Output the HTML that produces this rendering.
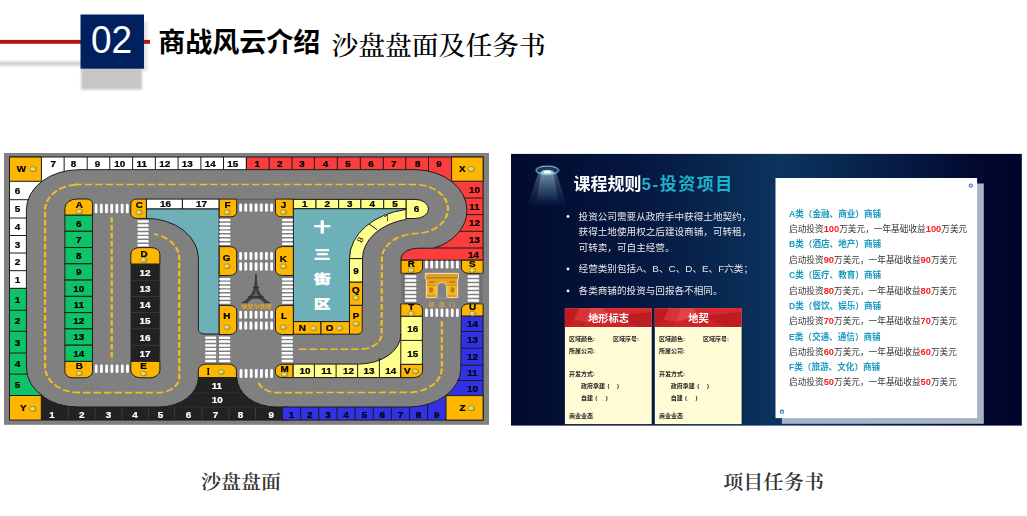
<!DOCTYPE html>
<html lang="zh-CN"><head><meta charset="utf-8"><title>商战风云介绍 沙盘盘面及任务书</title>
<style>
html,body{margin:0;padding:0;background:#fff;}
body{width:1027px;height:516px;overflow:hidden;position:relative;font-family:"Liberation Sans","Noto Sans CJK SC",sans-serif;}
svg{position:absolute;left:0;top:0;display:block;}
svg text{font-family:"Liberation Sans","Noto Sans CJK SC",sans-serif;}
svg text.mono{font-family:"Liberation Mono","DejaVu Sans Mono",monospace;}
svg text.serif{font-family:"Liberation Serif","Noto Serif CJK SC",serif;}
</style></head><body>
<svg width="1027" height="516" viewBox="0 0 1027 516">
<defs>
<radialGradient id="gold" cx="0.38" cy="0.4" r="0.72"><stop offset="0" stop-color="#efe87e"/><stop offset="0.55" stop-color="#d6ca58"/><stop offset="1" stop-color="#9a8c2c"/></radialGradient>
<filter id="blur2" x="-20%" y="-50%" width="140%" height="200%"><feGaussianBlur stdDeviation="1.3"/></filter>
<filter id="soft" x="-2%" y="-2%" width="104%" height="104%"><feGaussianBlur stdDeviation="0.45"/></filter>
<filter id="blur1" x="-20%" y="-200%" width="140%" height="500%"><feGaussianBlur stdDeviation="1.3"/></filter>
<linearGradient id="panel" x1="0" x2="1" y1="0" y2="0">
<stop offset="0" stop-color="#020a2e"/><stop offset="0.25" stop-color="#051740"/><stop offset="0.53" stop-color="#0b345e"/><stop offset="0.75" stop-color="#061c46"/><stop offset="0.92" stop-color="#02082e"/><stop offset="1" stop-color="#010429"/></linearGradient>
<linearGradient id="cone" x1="0" x2="0" y1="0" y2="1"><stop offset="0" stop-color="#bfe4f4" stop-opacity="0.75"/><stop offset="1" stop-color="#6aa8d0" stop-opacity="0"/></linearGradient>
</defs>

<rect x="-10" y="61.2" width="92" height="4.6" fill="#d2d2d2" filter="url(#blur1)"/>
<rect x="81.5" y="22" width="66" height="49" fill="#000" opacity="0.10" filter="url(#blur2)"/>
<rect x="81.2" y="68" width="60.8" height="21.6" fill="#c6c6c6" filter="url(#blur2)"/>
<rect x="0" y="39.9" width="150" height="3.9" fill="#b5120f"/>
<rect x="80.5" y="14.5" width="63.5" height="54.2" fill="#002060"/>
<text transform="translate(111.5,52.6) scale(1,1.055)" text-anchor="middle" font-size="37" fill="#fff">02</text>
<text x="158.2" y="52.4" font-size="27" font-weight="700" fill="#000">商战风云介绍</text>
<text class="serif" transform="translate(331.5,54.6) scale(1,0.96)" font-size="26.8" font-weight="500" fill="#000">沙盘盘面及任务书</text>
<text class="serif" transform="translate(241,488.9) scale(1,0.94)" text-anchor="middle" font-size="20" font-weight="600" fill="#333">沙盘盘面</text>
<text class="serif" transform="translate(773.7,488.9) scale(1,0.94)" text-anchor="middle" font-size="20" font-weight="600" fill="#333" letter-spacing="0.25">项目任务书</text>
<rect x="4" y="153" width="485" height="271.8" fill="#808080"/>
<g id="board" filter="url(#soft)">
<path d="M9.5,157.0 L246.4,157.0 L246.4,169.7 L79,169.7 A52.6,40 0 0 0 26.4,209.7 L26.4,288.4 L9.5,288.4 Z" fill="#fff" stroke="#1c1c1c" stroke-width="1.0" />
<text transform="translate(53.30,163.80) scale(1.1,1)" text-anchor="middle" font-size="9.0" font-weight="700" fill="#000" stroke="#000" stroke-width="0.25" y="3.15">7</text>
<line x1="64.15" y1="157.00" x2="64.15" y2="171.70" stroke="#1c1c1c" stroke-width="1.0"/>
<text transform="translate(73.40,163.80) scale(1.1,1)" text-anchor="middle" font-size="9.0" font-weight="700" fill="#000" stroke="#000" stroke-width="0.25" y="3.15">8</text>
<line x1="87.20" y1="157.00" x2="87.20" y2="169.70" stroke="#1c1c1c" stroke-width="1.0"/>
<text transform="translate(97.60,163.80) scale(1.1,1)" text-anchor="middle" font-size="9.0" font-weight="700" fill="#000" stroke="#000" stroke-width="0.25" y="3.15">9</text>
<line x1="109.80" y1="157.00" x2="109.80" y2="169.70" stroke="#1c1c1c" stroke-width="1.0"/>
<text transform="translate(119.80,163.80) scale(1.1,1)" text-anchor="middle" font-size="9.0" font-weight="700" fill="#000" stroke="#000" stroke-width="0.25" y="3.15">10</text>
<line x1="132.60" y1="157.00" x2="132.60" y2="169.70" stroke="#1c1c1c" stroke-width="1.0"/>
<text transform="translate(141.70,163.80) scale(1.1,1)" text-anchor="middle" font-size="9.0" font-weight="700" fill="#000" stroke="#000" stroke-width="0.25" y="3.15">11</text>
<line x1="155.35" y1="157.00" x2="155.35" y2="169.70" stroke="#1c1c1c" stroke-width="1.0"/>
<text transform="translate(164.70,163.80) scale(1.1,1)" text-anchor="middle" font-size="9.0" font-weight="700" fill="#000" stroke="#000" stroke-width="0.25" y="3.15">12</text>
<line x1="178.10" y1="157.00" x2="178.10" y2="169.70" stroke="#1c1c1c" stroke-width="1.0"/>
<text transform="translate(187.20,163.80) scale(1.1,1)" text-anchor="middle" font-size="9.0" font-weight="700" fill="#000" stroke="#000" stroke-width="0.25" y="3.15">13</text>
<line x1="200.90" y1="157.00" x2="200.90" y2="169.70" stroke="#1c1c1c" stroke-width="1.0"/>
<text transform="translate(210.30,163.80) scale(1.1,1)" text-anchor="middle" font-size="9.0" font-weight="700" fill="#000" stroke="#000" stroke-width="0.25" y="3.15">14</text>
<line x1="223.50" y1="157.00" x2="223.50" y2="169.70" stroke="#1c1c1c" stroke-width="1.0"/>
<text transform="translate(232.80,163.80) scale(1.1,1)" text-anchor="middle" font-size="9.0" font-weight="700" fill="#000" stroke="#000" stroke-width="0.25" y="3.15">15</text>
<text transform="translate(17.60,190.80) scale(1.1,1)" text-anchor="middle" font-size="9.0" font-weight="700" fill="#000" stroke="#000" stroke-width="0.25" y="3.15">6</text>
<line x1="9.50" y1="199.70" x2="28.40" y2="199.70" stroke="#1c1c1c" stroke-width="1.0"/>
<text transform="translate(17.60,209.15) scale(1.1,1)" text-anchor="middle" font-size="9.0" font-weight="700" fill="#000" stroke="#000" stroke-width="0.25" y="3.15">5</text>
<line x1="9.50" y1="218.00" x2="26.40" y2="218.00" stroke="#1c1c1c" stroke-width="1.0"/>
<text transform="translate(17.60,227.05) scale(1.1,1)" text-anchor="middle" font-size="9.0" font-weight="700" fill="#000" stroke="#000" stroke-width="0.25" y="3.15">4</text>
<line x1="9.50" y1="235.50" x2="26.40" y2="235.50" stroke="#1c1c1c" stroke-width="1.0"/>
<text transform="translate(17.60,244.55) scale(1.1,1)" text-anchor="middle" font-size="9.0" font-weight="700" fill="#000" stroke="#000" stroke-width="0.25" y="3.15">3</text>
<line x1="9.50" y1="253.00" x2="26.40" y2="253.00" stroke="#1c1c1c" stroke-width="1.0"/>
<text transform="translate(17.60,262.15) scale(1.1,1)" text-anchor="middle" font-size="9.0" font-weight="700" fill="#000" stroke="#000" stroke-width="0.25" y="3.15">2</text>
<line x1="9.50" y1="270.70" x2="26.40" y2="270.70" stroke="#1c1c1c" stroke-width="1.0"/>
<text transform="translate(17.60,279.80) scale(1.1,1)" text-anchor="middle" font-size="9.0" font-weight="700" fill="#000" stroke="#000" stroke-width="0.25" y="3.15">1</text>
<path d="M9.5,288.4 L26.4,288.4 L26.4,367.0 A52.6,40 0 0 0 44,397 L9.5,397 Z" fill="#10c268" stroke="#1c1c1c" stroke-width="1.0" />
<text transform="translate(17.60,299.65) scale(1.1,1)" text-anchor="middle" font-size="9.0" font-weight="700" fill="#000" stroke="#000" stroke-width="0.25" y="3.15">1</text>
<line x1="9.50" y1="310.30" x2="26.40" y2="310.30" stroke="#1c1c1c" stroke-width="1.0"/>
<text transform="translate(17.60,321.10) scale(1.1,1)" text-anchor="middle" font-size="9.0" font-weight="700" fill="#000" stroke="#000" stroke-width="0.25" y="3.15">2</text>
<line x1="9.50" y1="331.30" x2="26.40" y2="331.30" stroke="#1c1c1c" stroke-width="1.0"/>
<text transform="translate(17.60,342.45) scale(1.1,1)" text-anchor="middle" font-size="9.0" font-weight="700" fill="#000" stroke="#000" stroke-width="0.25" y="3.15">3</text>
<line x1="9.50" y1="353.00" x2="26.40" y2="353.00" stroke="#1c1c1c" stroke-width="1.0"/>
<text transform="translate(17.60,363.85) scale(1.1,1)" text-anchor="middle" font-size="9.0" font-weight="700" fill="#000" stroke="#000" stroke-width="0.25" y="3.15">4</text>
<line x1="9.50" y1="374.10" x2="27.00" y2="374.10" stroke="#1c1c1c" stroke-width="1.0"/>
<text transform="translate(17.60,385.10) scale(1.1,1)" text-anchor="middle" font-size="9.0" font-weight="700" fill="#000" stroke="#000" stroke-width="0.25" y="3.15">5</text>
<path d="M41.3,420.1 L41.3,395.5 A52.6,40 0 0 0 79,407.0 L159.1,407.0 A39.3,29.9 0 0 0 198.4,377.5 L236.9,377.5 A39.3,29.9 0 0 0 276.3,407.0 L288.4,407.0 L288.4,420.1 Z" fill="#222222" stroke="#1c1c1c" stroke-width="1.0" />
<text transform="translate(52.10,414.70) scale(1.1,1)" text-anchor="middle" font-size="9.0" font-weight="700" fill="#fff" stroke="#fff" stroke-width="0.25" y="3.15">1</text>
<line x1="68.30" y1="407.30" x2="68.30" y2="420.10" stroke="#3d3d3d" stroke-width="0.9"/>
<text transform="translate(81.80,414.70) scale(1.1,1)" text-anchor="middle" font-size="9.0" font-weight="700" fill="#fff" stroke="#fff" stroke-width="0.25" y="3.15">2</text>
<line x1="95.00" y1="407.30" x2="95.00" y2="420.10" stroke="#3d3d3d" stroke-width="0.9"/>
<text transform="translate(108.50,414.70) scale(1.1,1)" text-anchor="middle" font-size="9.0" font-weight="700" fill="#fff" stroke="#fff" stroke-width="0.25" y="3.15">3</text>
<line x1="122.00" y1="407.30" x2="122.00" y2="420.10" stroke="#3d3d3d" stroke-width="0.9"/>
<text transform="translate(134.90,414.70) scale(1.1,1)" text-anchor="middle" font-size="9.0" font-weight="700" fill="#fff" stroke="#fff" stroke-width="0.25" y="3.15">4</text>
<line x1="148.60" y1="407.30" x2="148.60" y2="420.10" stroke="#3d3d3d" stroke-width="0.9"/>
<text transform="translate(160.40,414.70) scale(1.1,1)" text-anchor="middle" font-size="9.0" font-weight="700" fill="#fff" stroke="#fff" stroke-width="0.25" y="3.15">5</text>
<line x1="174.60" y1="407.30" x2="174.60" y2="420.10" stroke="#3d3d3d" stroke-width="0.9"/>
<text transform="translate(188.60,414.70) scale(1.1,1)" text-anchor="middle" font-size="9.0" font-weight="700" fill="#fff" stroke="#fff" stroke-width="0.25" y="3.15">6</text>
<line x1="202.00" y1="407.30" x2="202.00" y2="420.10" stroke="#3d3d3d" stroke-width="0.9"/>
<text transform="translate(215.50,414.70) scale(1.1,1)" text-anchor="middle" font-size="9.0" font-weight="700" fill="#fff" stroke="#fff" stroke-width="0.25" y="3.15">7</text>
<line x1="229.00" y1="407.30" x2="229.00" y2="420.10" stroke="#3d3d3d" stroke-width="0.9"/>
<text transform="translate(240.40,414.70) scale(1.1,1)" text-anchor="middle" font-size="9.0" font-weight="700" fill="#fff" stroke="#fff" stroke-width="0.25" y="3.15">8</text>
<line x1="255.50" y1="407.30" x2="255.50" y2="420.10" stroke="#3d3d3d" stroke-width="0.9"/>
<text transform="translate(271.20,414.70) scale(1.1,1)" text-anchor="middle" font-size="9.0" font-weight="700" fill="#fff" stroke="#fff" stroke-width="0.25" y="3.15">9</text>
<line x1="168.00" y1="407.20" x2="268.00" y2="407.20" stroke="#343434" stroke-width="0.7"/>
<line x1="193.50" y1="392.60" x2="243.00" y2="392.60" stroke="#343434" stroke-width="0.7"/>
<text transform="translate(216.90,385.70) scale(1.1,1)" text-anchor="middle" font-size="9.0" font-weight="700" fill="#fff" stroke="#fff" stroke-width="0.25" y="3.15">11</text>
<text transform="translate(217.20,399.40) scale(1.1,1)" text-anchor="middle" font-size="9.0" font-weight="700" fill="#fff" stroke="#fff" stroke-width="0.25" y="3.15">10</text>
<path d="M282.5,420.1 L282.5,407.0 L408.8,407.0 A52,38.5 0 0 0 460.8,368.5 L461.3,316 L483.1,316 L483.1,420.1 Z" fill="#3232e4" stroke="#1c1c1c" stroke-width="1.0" />
<text transform="translate(291.57,414.70) scale(1.1,1)" text-anchor="middle" font-size="9.0" font-weight="700" fill="#000" stroke="#000" stroke-width="0.25" y="3.15">1</text>
<line x1="300.65" y1="407.00" x2="300.65" y2="420.10" stroke="#1c1c1c" stroke-width="1.0"/>
<text transform="translate(309.73,414.70) scale(1.1,1)" text-anchor="middle" font-size="9.0" font-weight="700" fill="#000" stroke="#000" stroke-width="0.25" y="3.15">2</text>
<line x1="318.80" y1="407.00" x2="318.80" y2="420.10" stroke="#1c1c1c" stroke-width="1.0"/>
<text transform="translate(327.88,414.70) scale(1.1,1)" text-anchor="middle" font-size="9.0" font-weight="700" fill="#000" stroke="#000" stroke-width="0.25" y="3.15">3</text>
<line x1="336.95" y1="407.00" x2="336.95" y2="420.10" stroke="#1c1c1c" stroke-width="1.0"/>
<text transform="translate(346.02,414.70) scale(1.1,1)" text-anchor="middle" font-size="9.0" font-weight="700" fill="#000" stroke="#000" stroke-width="0.25" y="3.15">4</text>
<line x1="355.10" y1="407.00" x2="355.10" y2="420.10" stroke="#1c1c1c" stroke-width="1.0"/>
<text transform="translate(364.18,414.70) scale(1.1,1)" text-anchor="middle" font-size="9.0" font-weight="700" fill="#000" stroke="#000" stroke-width="0.25" y="3.15">5</text>
<line x1="373.25" y1="407.00" x2="373.25" y2="420.10" stroke="#1c1c1c" stroke-width="1.0"/>
<text transform="translate(382.32,414.70) scale(1.1,1)" text-anchor="middle" font-size="9.0" font-weight="700" fill="#000" stroke="#000" stroke-width="0.25" y="3.15">6</text>
<line x1="391.40" y1="407.00" x2="391.40" y2="420.10" stroke="#1c1c1c" stroke-width="1.0"/>
<text transform="translate(400.45,414.70) scale(1.1,1)" text-anchor="middle" font-size="9.0" font-weight="700" fill="#000" stroke="#000" stroke-width="0.25" y="3.15">7</text>
<line x1="409.50" y1="407.00" x2="409.50" y2="420.10" stroke="#1c1c1c" stroke-width="1.0"/>
<text transform="translate(418.55,414.70) scale(1.1,1)" text-anchor="middle" font-size="9.0" font-weight="700" fill="#000" stroke="#000" stroke-width="0.25" y="3.15">8</text>
<line x1="427.60" y1="403.50" x2="427.60" y2="420.10" stroke="#1c1c1c" stroke-width="1.0"/>
<text transform="translate(436.80,414.70) scale(1.1,1)" text-anchor="middle" font-size="9.0" font-weight="700" fill="#000" stroke="#000" stroke-width="0.25" y="3.15">9</text>
<text transform="translate(472.40,324.05) scale(1.1,1)" text-anchor="middle" font-size="9.0" font-weight="700" fill="#000" stroke="#000" stroke-width="0.25" y="3.15">14</text>
<line x1="461.30" y1="331.50" x2="483.10" y2="331.50" stroke="#1c1c1c" stroke-width="1.0"/>
<text transform="translate(472.40,340.15) scale(1.1,1)" text-anchor="middle" font-size="9.0" font-weight="700" fill="#000" stroke="#000" stroke-width="0.25" y="3.15">13</text>
<line x1="461.30" y1="348.20" x2="483.10" y2="348.20" stroke="#1c1c1c" stroke-width="1.0"/>
<text transform="translate(472.40,357.05) scale(1.1,1)" text-anchor="middle" font-size="9.0" font-weight="700" fill="#000" stroke="#000" stroke-width="0.25" y="3.15">12</text>
<line x1="461.00" y1="365.30" x2="483.10" y2="365.30" stroke="#1c1c1c" stroke-width="1.0"/>
<text transform="translate(472.40,373.20) scale(1.1,1)" text-anchor="middle" font-size="9.0" font-weight="700" fill="#000" stroke="#000" stroke-width="0.25" y="3.15">11</text>
<line x1="457.50" y1="380.50" x2="483.10" y2="380.50" stroke="#1c1c1c" stroke-width="1.0"/>
<text transform="translate(472.40,388.35) scale(1.1,1)" text-anchor="middle" font-size="9.0" font-weight="700" fill="#000" stroke="#000" stroke-width="0.25" y="3.15">10</text>
<path d="M246.4,157.0 L483.1,157.0 L483.1,260.2 L401,260.2 L401,258.6 A17.6,10.4 0 0 1 418.6,248.2 L433.65,248.2 A52,40.6 0 0 0 467,210.3 A52,40.6 0 0 0 415,169.7 L246.4,169.7 Z" fill="#fb3d3d" stroke="#1c1c1c" stroke-width="1.0" />
<text transform="translate(257.30,164.00) scale(1.1,1)" text-anchor="middle" font-size="9.0" font-weight="700" fill="#000" stroke="#000" stroke-width="0.25" y="3.15">1</text>
<line x1="269.20" y1="157.00" x2="269.20" y2="169.70" stroke="#1c1c1c" stroke-width="1.0"/>
<text transform="translate(279.70,164.00) scale(1.1,1)" text-anchor="middle" font-size="9.0" font-weight="700" fill="#000" stroke="#000" stroke-width="0.25" y="3.15">2</text>
<line x1="292.00" y1="157.00" x2="292.00" y2="169.70" stroke="#1c1c1c" stroke-width="1.0"/>
<text transform="translate(301.90,164.00) scale(1.1,1)" text-anchor="middle" font-size="9.0" font-weight="700" fill="#000" stroke="#000" stroke-width="0.25" y="3.15">3</text>
<line x1="314.40" y1="157.00" x2="314.40" y2="169.70" stroke="#1c1c1c" stroke-width="1.0"/>
<text transform="translate(325.50,164.00) scale(1.1,1)" text-anchor="middle" font-size="9.0" font-weight="700" fill="#000" stroke="#000" stroke-width="0.25" y="3.15">4</text>
<line x1="337.30" y1="157.00" x2="337.30" y2="169.70" stroke="#1c1c1c" stroke-width="1.0"/>
<text transform="translate(348.10,164.00) scale(1.1,1)" text-anchor="middle" font-size="9.0" font-weight="700" fill="#000" stroke="#000" stroke-width="0.25" y="3.15">5</text>
<line x1="360.30" y1="157.00" x2="360.30" y2="169.70" stroke="#1c1c1c" stroke-width="1.0"/>
<text transform="translate(371.00,164.00) scale(1.1,1)" text-anchor="middle" font-size="9.0" font-weight="700" fill="#000" stroke="#000" stroke-width="0.25" y="3.15">6</text>
<line x1="383.30" y1="157.00" x2="383.30" y2="169.70" stroke="#1c1c1c" stroke-width="1.0"/>
<text transform="translate(393.80,164.00) scale(1.1,1)" text-anchor="middle" font-size="9.0" font-weight="700" fill="#000" stroke="#000" stroke-width="0.25" y="3.15">7</text>
<line x1="405.80" y1="157.00" x2="405.80" y2="169.70" stroke="#1c1c1c" stroke-width="1.0"/>
<text transform="translate(417.80,164.00) scale(1.1,1)" text-anchor="middle" font-size="9.0" font-weight="700" fill="#000" stroke="#000" stroke-width="0.25" y="3.15">8</text>
<line x1="428.50" y1="157.00" x2="428.50" y2="171.20" stroke="#1c1c1c" stroke-width="1.0"/>
<text transform="translate(439.00,164.00) scale(1.1,1)" text-anchor="middle" font-size="9.0" font-weight="700" fill="#000" stroke="#000" stroke-width="0.25" y="3.15">9</text>
<text transform="translate(474.60,189.90) scale(1.1,1)" text-anchor="middle" font-size="9.0" font-weight="700" fill="#000" stroke="#000" stroke-width="0.25" y="3.15">10</text>
<line x1="465.00" y1="198.00" x2="483.10" y2="198.00" stroke="#1c1c1c" stroke-width="1.0"/>
<text transform="translate(474.60,206.60) scale(1.1,1)" text-anchor="middle" font-size="9.0" font-weight="700" fill="#000" stroke="#000" stroke-width="0.25" y="3.15">11</text>
<line x1="466.70" y1="214.60" x2="483.10" y2="214.60" stroke="#1c1c1c" stroke-width="1.0"/>
<text transform="translate(474.60,223.25) scale(1.1,1)" text-anchor="middle" font-size="9.0" font-weight="700" fill="#000" stroke="#000" stroke-width="0.25" y="3.15">12</text>
<line x1="460.00" y1="231.30" x2="483.10" y2="231.30" stroke="#1c1c1c" stroke-width="1.0"/>
<text transform="translate(474.60,239.95) scale(1.1,1)" text-anchor="middle" font-size="9.0" font-weight="700" fill="#000" stroke="#000" stroke-width="0.25" y="3.15">13</text>
<line x1="433.65" y1="248.00" x2="483.10" y2="248.00" stroke="#1c1c1c" stroke-width="1.0"/>
<text transform="translate(473.60,254.40) scale(1.1,1)" text-anchor="middle" font-size="9.0" font-weight="700" fill="#000" stroke="#000" stroke-width="0.25" y="3.15">14</text>
<rect x="9.50" y="157.00" width="31.90" height="24.30" fill="#feb600" stroke="#1c1c1c" stroke-width="1.0" />
<text transform="translate(21.50,168.70) scale(1.1,1)" text-anchor="middle" font-size="9.0" font-weight="700" fill="#000" stroke="#000" stroke-width="0.25" y="3.15">W</text>
<ellipse cx="33.10" cy="169.20" rx="3.4" ry="2.6" fill="url(#gold)" stroke="#7c7020" stroke-width="0.5"/>
<rect x="451.60" y="157.00" width="31.50" height="24.20" fill="#feb600" stroke="#1c1c1c" stroke-width="1.0" />
<text transform="translate(462.30,169.00) scale(1.1,1)" text-anchor="middle" font-size="9.0" font-weight="700" fill="#000" stroke="#000" stroke-width="0.25" y="3.15">X</text>
<ellipse cx="471.40" cy="169.10" rx="3.4" ry="2.6" fill="url(#gold)" stroke="#7c7020" stroke-width="0.5"/>
<rect x="9.50" y="395.50" width="31.80" height="24.60" fill="#feb600" stroke="#1c1c1c" stroke-width="1.0" />
<text transform="translate(23.30,408.30) scale(1.1,1)" text-anchor="middle" font-size="9.0" font-weight="700" fill="#000" stroke="#000" stroke-width="0.25" y="3.15">Y</text>
<ellipse cx="32.90" cy="409.00" rx="3.4" ry="2.6" fill="url(#gold)" stroke="#7c7020" stroke-width="0.5"/>
<rect x="446.00" y="395.60" width="37.10" height="24.50" fill="#feb600" stroke="#1c1c1c" stroke-width="1.0" />
<text transform="translate(462.50,408.30) scale(1.1,1)" text-anchor="middle" font-size="9.0" font-weight="700" fill="#000" stroke="#000" stroke-width="0.25" y="3.15">Z</text>
<ellipse cx="471.40" cy="408.40" rx="3.4" ry="2.6" fill="url(#gold)" stroke="#7c7020" stroke-width="0.5"/>
<path d="M146.4,208.8 L219.2,208.8 L219.2,334 L204,334 A5.6,4.5 0 0 1 198.4,329.5 L198.4,258.5 A52,40 0 0 0 146.4,218.4 Z" fill="#6eb0b8" stroke="#1c1c1c" stroke-width="1.0" />
<rect x="146.40" y="199.10" width="36.00" height="9.70" fill="#fff" stroke="#1c1c1c" stroke-width="1.0" />
<text transform="translate(165.60,204.20) scale(1.1,1)" text-anchor="middle" font-size="9.0" font-weight="700" fill="#000" stroke="#000" stroke-width="0.25" y="3.15">16</text>
<rect x="182.40" y="199.10" width="36.80" height="9.70" fill="#fff" stroke="#1c1c1c" stroke-width="1.0" />
<text transform="translate(201.50,204.20) scale(1.1,1)" text-anchor="middle" font-size="9.0" font-weight="700" fill="#000" stroke="#000" stroke-width="0.25" y="3.15">17</text>
<rect x="64.90" y="215.00" width="27.60" height="16.27" fill="#10c268" stroke="#1c1c1c" stroke-width="1.0" />
<text transform="translate(78.70,223.44) scale(1.1,1)" text-anchor="middle" font-size="9.0" font-weight="700" fill="#000" stroke="#000" stroke-width="0.25" y="3.15">6</text>
<rect x="64.90" y="231.27" width="27.60" height="16.27" fill="#10c268" stroke="#1c1c1c" stroke-width="1.0" />
<text transform="translate(78.70,239.71) scale(1.1,1)" text-anchor="middle" font-size="9.0" font-weight="700" fill="#000" stroke="#000" stroke-width="0.25" y="3.15">7</text>
<rect x="64.90" y="247.54" width="27.60" height="16.27" fill="#10c268" stroke="#1c1c1c" stroke-width="1.0" />
<text transform="translate(78.70,255.98) scale(1.1,1)" text-anchor="middle" font-size="9.0" font-weight="700" fill="#000" stroke="#000" stroke-width="0.25" y="3.15">8</text>
<rect x="64.90" y="263.81" width="27.60" height="16.27" fill="#10c268" stroke="#1c1c1c" stroke-width="1.0" />
<text transform="translate(78.70,272.25) scale(1.1,1)" text-anchor="middle" font-size="9.0" font-weight="700" fill="#000" stroke="#000" stroke-width="0.25" y="3.15">9</text>
<rect x="64.90" y="280.08" width="27.60" height="16.27" fill="#10c268" stroke="#1c1c1c" stroke-width="1.0" />
<text transform="translate(78.70,288.52) scale(1.1,1)" text-anchor="middle" font-size="9.0" font-weight="700" fill="#000" stroke="#000" stroke-width="0.25" y="3.15">10</text>
<rect x="64.90" y="296.35" width="27.60" height="16.27" fill="#10c268" stroke="#1c1c1c" stroke-width="1.0" />
<text transform="translate(78.70,304.79) scale(1.1,1)" text-anchor="middle" font-size="9.0" font-weight="700" fill="#000" stroke="#000" stroke-width="0.25" y="3.15">11</text>
<rect x="64.90" y="312.62" width="27.60" height="16.27" fill="#10c268" stroke="#1c1c1c" stroke-width="1.0" />
<text transform="translate(78.70,321.06) scale(1.1,1)" text-anchor="middle" font-size="9.0" font-weight="700" fill="#000" stroke="#000" stroke-width="0.25" y="3.15">12</text>
<rect x="64.90" y="328.89" width="27.60" height="16.27" fill="#10c268" stroke="#1c1c1c" stroke-width="1.0" />
<text transform="translate(78.70,337.32) scale(1.1,1)" text-anchor="middle" font-size="9.0" font-weight="700" fill="#000" stroke="#000" stroke-width="0.25" y="3.15">13</text>
<rect x="64.90" y="345.16" width="27.60" height="16.27" fill="#10c268" stroke="#1c1c1c" stroke-width="1.0" />
<text transform="translate(78.70,353.59) scale(1.1,1)" text-anchor="middle" font-size="9.0" font-weight="700" fill="#000" stroke="#000" stroke-width="0.25" y="3.15">14</text>
<path d="M76.90,199.00 L86.50,199.00 A6,4.56 0 0 1 92.50,203.56 L92.50,215.00 L64.90,215.00 L64.90,208.12 A12,9.12 0 0 1 76.90,199.00 Z" fill="#feb600" stroke="#1c1c1c" stroke-width="1.0" />
<text transform="translate(79.30,204.80) scale(1.1,1)" text-anchor="middle" font-size="9.0" font-weight="700" fill="#000" stroke="#000" stroke-width="0.25" y="3.15">A</text>
<ellipse cx="79.20" cy="211.50" rx="3.2" ry="2.4" fill="url(#gold)" stroke="#7c7020" stroke-width="0.5"/>
<path d="M64.90,361.40 L92.50,361.40 L92.50,371.72 A8,6.08 0 0 1 84.50,377.80 L72.90,377.80 A8,6.08 0 0 1 64.90,371.72 L64.90,361.40 Z" fill="#feb600" stroke="#1c1c1c" stroke-width="1.0" />
<text transform="translate(79.20,365.90) scale(1.1,1)" text-anchor="middle" font-size="9.0" font-weight="700" fill="#000" stroke="#000" stroke-width="0.25" y="3.15">B</text>
<ellipse cx="79.20" cy="373.30" rx="3.2" ry="2.4" fill="url(#gold)" stroke="#7c7020" stroke-width="0.5"/>
<rect x="130.80" y="264.00" width="29.10" height="16.23" fill="#222222" stroke="#3a3a3a" stroke-width="0.6" />
<text transform="translate(144.95,272.62) scale(1.1,1)" text-anchor="middle" font-size="9.0" font-weight="700" fill="#fff" stroke="#fff" stroke-width="0.25" y="3.15">12</text>
<rect x="130.80" y="280.23" width="29.10" height="16.23" fill="#222222" stroke="#3a3a3a" stroke-width="0.6" />
<text transform="translate(144.95,288.85) scale(1.1,1)" text-anchor="middle" font-size="9.0" font-weight="700" fill="#fff" stroke="#fff" stroke-width="0.25" y="3.15">13</text>
<rect x="130.80" y="296.46" width="29.10" height="16.23" fill="#222222" stroke="#3a3a3a" stroke-width="0.6" />
<text transform="translate(144.95,305.07) scale(1.1,1)" text-anchor="middle" font-size="9.0" font-weight="700" fill="#fff" stroke="#fff" stroke-width="0.25" y="3.15">14</text>
<rect x="130.80" y="312.69" width="29.10" height="16.23" fill="#222222" stroke="#3a3a3a" stroke-width="0.6" />
<text transform="translate(144.95,321.31) scale(1.1,1)" text-anchor="middle" font-size="9.0" font-weight="700" fill="#fff" stroke="#fff" stroke-width="0.25" y="3.15">15</text>
<rect x="130.80" y="328.92" width="29.10" height="16.23" fill="#222222" stroke="#3a3a3a" stroke-width="0.6" />
<text transform="translate(144.95,337.53) scale(1.1,1)" text-anchor="middle" font-size="9.0" font-weight="700" fill="#fff" stroke="#fff" stroke-width="0.25" y="3.15">16</text>
<rect x="130.80" y="345.15" width="29.10" height="16.23" fill="#222222" stroke="#3a3a3a" stroke-width="0.6" />
<text transform="translate(144.95,353.76) scale(1.1,1)" text-anchor="middle" font-size="9.0" font-weight="700" fill="#fff" stroke="#fff" stroke-width="0.25" y="3.15">17</text>
<path d="M139.30,247.60 L151.40,247.60 A8.5,6.46 0 0 1 159.90,254.06 L159.90,264.00 L130.80,264.00 L130.80,254.06 A8.5,6.46 0 0 1 139.30,247.60 Z" fill="#feb600" stroke="#1c1c1c" stroke-width="1.0" />
<text transform="translate(144.00,253.50) scale(1.1,1)" text-anchor="middle" font-size="9.0" font-weight="700" fill="#000" stroke="#000" stroke-width="0.25" y="3.15">D</text>
<ellipse cx="143.70" cy="260.00" rx="3.2" ry="2.4" fill="url(#gold)" stroke="#7c7020" stroke-width="0.5"/>
<path d="M130.80,361.40 L159.90,361.40 L159.90,370.20 A10,7.60 0 0 1 149.90,377.80 L140.80,377.80 A10,7.60 0 0 1 130.80,370.20 L130.80,361.40 Z" fill="#feb600" stroke="#1c1c1c" stroke-width="1.0" />
<text transform="translate(143.50,366.30) scale(1.1,1)" text-anchor="middle" font-size="9.0" font-weight="700" fill="#000" stroke="#000" stroke-width="0.25" y="3.15">E</text>
<ellipse cx="143.50" cy="373.70" rx="3.2" ry="2.4" fill="url(#gold)" stroke="#7c7020" stroke-width="0.5"/>
<path d="M136.80,199.10 L146.40,199.10 L146.40,218.40 L136.80,218.40 A6,4.56 0 0 1 130.80,213.84 L130.80,203.66 A6,4.56 0 0 1 136.80,199.10 Z" fill="#feb600" stroke="#1c1c1c" stroke-width="1.0" />
<text transform="translate(139.20,204.70) scale(1.1,1)" text-anchor="middle" font-size="9.0" font-weight="700" fill="#000" stroke="#000" stroke-width="0.25" y="3.15">C</text>
<ellipse cx="139.20" cy="212.40" rx="3.2" ry="2.4" fill="url(#gold)" stroke="#7c7020" stroke-width="0.5"/>
<path d="M219.20,199.10 L236.70,199.10 L236.70,212.24 A6,4.56 0 0 1 230.70,216.80 L219.20,216.80 L219.20,199.10 Z" fill="#feb600" stroke="#1c1c1c" stroke-width="1.0" />
<text transform="translate(227.50,204.90) scale(1.1,1)" text-anchor="middle" font-size="9.0" font-weight="700" fill="#000" stroke="#000" stroke-width="0.25" y="3.15">F</text>
<ellipse cx="227.20" cy="212.20" rx="3.2" ry="2.4" fill="url(#gold)" stroke="#7c7020" stroke-width="0.5"/>
<path d="M219.20,246.60 L229.70,246.60 A7,5.32 0 0 1 236.70,251.92 L236.70,270.18 A7,5.32 0 0 1 229.70,275.50 L219.20,275.50 L219.20,246.60 Z" fill="#feb600" stroke="#1c1c1c" stroke-width="1.0" />
<text transform="translate(226.60,257.70) scale(1.1,1)" text-anchor="middle" font-size="9.0" font-weight="700" fill="#000" stroke="#000" stroke-width="0.25" y="3.15">G</text>
<ellipse cx="227.10" cy="266.20" rx="3.2" ry="2.4" fill="url(#gold)" stroke="#7c7020" stroke-width="0.5"/>
<path d="M219.20,305.40 L229.70,305.40 A7,5.32 0 0 1 236.70,310.72 L236.70,329.18 A7,5.32 0 0 1 229.70,334.50 L219.20,334.50 L219.20,305.40 Z" fill="#feb600" stroke="#1c1c1c" stroke-width="1.0" />
<text transform="translate(226.80,316.00) scale(1.1,1)" text-anchor="middle" font-size="9.0" font-weight="700" fill="#000" stroke="#000" stroke-width="0.25" y="3.15">H</text>
<ellipse cx="227.20" cy="327.20" rx="3.2" ry="2.4" fill="url(#gold)" stroke="#7c7020" stroke-width="0.5"/>
<path d="M206.30,364.10 L228.40,364.10 A8,6.08 0 0 1 236.40,370.18 L236.40,377.50 L198.30,377.50 L198.30,370.18 A8,6.08 0 0 1 206.30,364.10 Z" fill="#feb600" stroke="#1c1c1c" stroke-width="1.0" />
<text class="serif" transform="translate(208.30,371.40) scale(0.95,1)" text-anchor="middle" font-size="9.6" font-weight="700" fill="#000" y="3.2">I</text>
<ellipse cx="221.30" cy="372.00" rx="3.2" ry="2.4" fill="url(#gold)" stroke="#7c7020" stroke-width="0.5"/>
<path d="M275.50,199.10 L293.40,199.10 L293.40,216.80 L281.50,216.80 A6,4.56 0 0 1 275.50,212.24 L275.50,199.10 Z" fill="#feb600" stroke="#1c1c1c" stroke-width="1.0" />
<text transform="translate(283.50,204.90) scale(1.1,1)" text-anchor="middle" font-size="9.0" font-weight="700" fill="#000" stroke="#000" stroke-width="0.25" y="3.15">J</text>
<ellipse cx="283.50" cy="212.20" rx="3.2" ry="2.4" fill="url(#gold)" stroke="#7c7020" stroke-width="0.5"/>
<path d="M282.50,246.60 L293.40,246.60 L293.40,275.50 L282.50,275.50 A7,5.32 0 0 1 275.50,270.18 L275.50,251.92 A7,5.32 0 0 1 282.50,246.60 Z" fill="#feb600" stroke="#1c1c1c" stroke-width="1.0" />
<text transform="translate(283.30,258.60) scale(1.1,1)" text-anchor="middle" font-size="9.0" font-weight="700" fill="#000" stroke="#000" stroke-width="0.25" y="3.15">K</text>
<ellipse cx="283.50" cy="266.30" rx="3.2" ry="2.4" fill="url(#gold)" stroke="#7c7020" stroke-width="0.5"/>
<path d="M282.50,305.40 L293.40,305.40 L293.40,334.50 L282.50,334.50 A7,5.32 0 0 1 275.50,329.18 L275.50,310.72 A7,5.32 0 0 1 282.50,305.40 Z" fill="#feb600" stroke="#1c1c1c" stroke-width="1.0" />
<text transform="translate(284.00,316.30) scale(1.1,1)" text-anchor="middle" font-size="9.0" font-weight="700" fill="#000" stroke="#000" stroke-width="0.25" y="3.15">L</text>
<ellipse cx="283.50" cy="327.20" rx="3.2" ry="2.4" fill="url(#gold)" stroke="#7c7020" stroke-width="0.5"/>
<path d="M282.40,364.30 L293.10,364.30 L293.10,377.60 L282.40,377.60 A7,5.32 0 0 1 275.40,372.28 L275.40,369.62 A7,5.32 0 0 1 282.40,364.30 Z" fill="#feb600" stroke="#1c1c1c" stroke-width="1.0" />
<text transform="translate(284.50,368.60) scale(1.1,1)" text-anchor="middle" font-size="9.0" font-weight="700" fill="#000" stroke="#000" stroke-width="0.25" y="3.15">M</text>
<ellipse cx="284.50" cy="374.40" rx="3.2" ry="2.4" fill="url(#gold)" stroke="#7c7020" stroke-width="0.5"/>
<path d="M293.4,208.6 L406.2,208.6 L406.2,210 A69.1,50 0 0 0 349.5,258.6 L349.5,321.6 L293.4,321.6 Z" fill="#6eb0b8" stroke="#1c1c1c" stroke-width="1.0" />
<path d="M406.2,209.41 L406.2,219.39 A56.1,40.2 0 0 0 362.5,258.6 L349.5,258.6 A69.1,50 0 0 1 406.2,209.41 Z" fill="#ffff8e" stroke="#1c1c1c" stroke-width="1.0" />
<rect x="293.40" y="199.40" width="22.60" height="9.20" fill="#ffff8e" stroke="#1c1c1c" stroke-width="1.0" />
<text transform="translate(304.70,204.30) scale(1.1,1)" text-anchor="middle" font-size="9.0" font-weight="700" fill="#000" stroke="#000" stroke-width="0.25" y="3.15">1</text>
<rect x="316.00" y="199.40" width="22.60" height="9.20" fill="#ffff8e" stroke="#1c1c1c" stroke-width="1.0" />
<text transform="translate(327.30,204.30) scale(1.1,1)" text-anchor="middle" font-size="9.0" font-weight="700" fill="#000" stroke="#000" stroke-width="0.25" y="3.15">2</text>
<rect x="338.60" y="199.40" width="22.30" height="9.20" fill="#ffff8e" stroke="#1c1c1c" stroke-width="1.0" />
<text transform="translate(349.75,204.30) scale(1.1,1)" text-anchor="middle" font-size="9.0" font-weight="700" fill="#000" stroke="#000" stroke-width="0.25" y="3.15">3</text>
<rect x="360.90" y="199.40" width="22.80" height="9.20" fill="#ffff8e" stroke="#1c1c1c" stroke-width="1.0" />
<text transform="translate(372.30,204.30) scale(1.1,1)" text-anchor="middle" font-size="9.0" font-weight="700" fill="#000" stroke="#000" stroke-width="0.25" y="3.15">4</text>
<rect x="383.70" y="199.40" width="22.50" height="9.20" fill="#ffff8e" stroke="#1c1c1c" stroke-width="1.0" />
<text transform="translate(394.95,204.30) scale(1.1,1)" text-anchor="middle" font-size="9.0" font-weight="700" fill="#000" stroke="#000" stroke-width="0.25" y="3.15">5</text>
<path d="M406.2,199.4 L415,199.4 A13.5,9.55 0 0 1 415,218.5 L406.2,218.5 Z" fill="#ffff8e" stroke="#1c1c1c" stroke-width="1.0" />
<text transform="translate(416.60,209.30) scale(1.1,1)" text-anchor="middle" font-size="9.0" font-weight="700" fill="#000" stroke="#000" stroke-width="0.25" y="3.15">6</text>
<rect x="349.50" y="258.60" width="13.00" height="23.60" fill="#ffff8e" stroke="#1c1c1c" stroke-width="1.0" />
<text transform="translate(356.00,270.50) scale(1.1,1)" text-anchor="middle" font-size="9.0" font-weight="700" fill="#000" stroke="#000" stroke-width="0.25" y="3.15">9</text>
<text transform="translate(386.9,218.2) rotate(-27) scale(1.12,1)" text-anchor="middle" font-size="8.3" font-weight="400" fill="#000" y="2.9">7</text>
<text transform="translate(360.3,239.8) rotate(-68) scale(1.12,1)" text-anchor="middle" font-size="8.3" font-weight="400" fill="#000" y="2.9">8</text>
<line x1="369.00" y1="223.80" x2="377.20" y2="229.80" stroke="#1c1c1c" stroke-width="1.0"/>
<path d="M349.50,282.20 L362.50,282.20 L362.50,305.40 L349.50,305.40 L349.50,282.20 Z" fill="#feb600" stroke="#1c1c1c" stroke-width="1.0" />
<text transform="translate(355.90,290.00) scale(1.1,1)" text-anchor="middle" font-size="9.0" font-weight="700" fill="#000" stroke="#000" stroke-width="0.25" y="3.15">Q</text>
<ellipse cx="355.90" cy="298.00" rx="3.2" ry="2.4" fill="url(#gold)" stroke="#7c7020" stroke-width="0.5"/>
<path d="M349.50,305.40 L362.20,305.40 L362.20,330.40 A5,3.80 0 0 1 357.20,334.20 L349.50,334.20 L349.50,305.40 Z" fill="#feb600" stroke="#1c1c1c" stroke-width="1.0" />
<text transform="translate(356.10,316.00) scale(1.1,1)" text-anchor="middle" font-size="9.0" font-weight="700" fill="#000" stroke="#000" stroke-width="0.25" y="3.15">P</text>
<ellipse cx="356.10" cy="323.80" rx="3.2" ry="2.4" fill="url(#gold)" stroke="#7c7020" stroke-width="0.5"/>
<path d="M293.40,321.60 L321.00,321.60 L321.00,334.20 L293.40,334.20 L293.40,321.60 Z" fill="#feb600" stroke="#1c1c1c" stroke-width="1.0" />
<text transform="translate(302.20,328.00) scale(1.1,1)" text-anchor="middle" font-size="9.0" font-weight="700" fill="#000" stroke="#000" stroke-width="0.25" y="3.15">N</text>
<ellipse cx="313.70" cy="328.30" rx="3.2" ry="2.4" fill="url(#gold)" stroke="#7c7020" stroke-width="0.5"/>
<path d="M321.00,321.60 L349.50,321.60 L349.50,334.20 L321.00,334.20 L321.00,321.60 Z" fill="#feb600" stroke="#1c1c1c" stroke-width="1.0" />
<text transform="translate(329.70,328.00) scale(1.1,1)" text-anchor="middle" font-size="9.0" font-weight="700" fill="#000" stroke="#000" stroke-width="0.25" y="3.15">O</text>
<ellipse cx="339.80" cy="328.30" rx="3.2" ry="2.4" fill="url(#gold)" stroke="#7c7020" stroke-width="0.5"/>
<text transform="translate(322.4,228) scale(1,0.72)" text-anchor="middle" font-size="16.6" font-weight="900" fill="#fff" stroke="#fff" stroke-width="0.7" stroke-linejoin="round" y="6.1">十</text>
<text transform="translate(322.4,254.2) scale(1,0.72)" text-anchor="middle" font-size="16.6" font-weight="900" fill="#fff" stroke="#fff" stroke-width="0.7" stroke-linejoin="round" y="6.1">三</text>
<text transform="translate(322.4,279.6) scale(1,0.72)" text-anchor="middle" font-size="16.6" font-weight="900" fill="#fff" stroke="#fff" stroke-width="0.7" stroke-linejoin="round" y="6.1">街</text>
<text transform="translate(322.4,304.5) scale(1,0.72)" text-anchor="middle" font-size="16.6" font-weight="900" fill="#fff" stroke="#fff" stroke-width="0.7" stroke-linejoin="round" y="6.1">区</text>
<path d="M293.2,364.1 L358.5,364.1 A42.3,29.6 0 0 0 400.8,334.5 L400.8,316.2 L422.4,316.2 L422.4,364.4 L400.8,364.4 L400.8,377.6 L293.2,377.6 Z" fill="#ffff8e" stroke="#1c1c1c" stroke-width="1.0" />
<text transform="translate(305.00,371.20) scale(1.1,1)" text-anchor="middle" font-size="9.0" font-weight="700" fill="#000" stroke="#000" stroke-width="0.25" y="3.15">10</text>
<line x1="314.40" y1="364.10" x2="314.40" y2="377.60" stroke="#1c1c1c" stroke-width="1.0"/>
<text transform="translate(326.60,371.20) scale(1.1,1)" text-anchor="middle" font-size="9.0" font-weight="700" fill="#000" stroke="#000" stroke-width="0.25" y="3.15">11</text>
<line x1="336.10" y1="364.10" x2="336.10" y2="377.60" stroke="#1c1c1c" stroke-width="1.0"/>
<text transform="translate(348.60,371.20) scale(1.1,1)" text-anchor="middle" font-size="9.0" font-weight="700" fill="#000" stroke="#000" stroke-width="0.25" y="3.15">12</text>
<line x1="357.60" y1="364.10" x2="357.60" y2="377.60" stroke="#1c1c1c" stroke-width="1.0"/>
<text transform="translate(369.00,371.20) scale(1.1,1)" text-anchor="middle" font-size="9.0" font-weight="700" fill="#000" stroke="#000" stroke-width="0.25" y="3.15">13</text>
<line x1="379.40" y1="358.00" x2="379.40" y2="377.60" stroke="#1c1c1c" stroke-width="1.0"/>
<text transform="translate(390.80,371.20) scale(1.1,1)" text-anchor="middle" font-size="9.0" font-weight="700" fill="#000" stroke="#000" stroke-width="0.25" y="3.15">14</text>
<line x1="400.80" y1="340.40" x2="422.40" y2="340.40" stroke="#1c1c1c" stroke-width="1.0"/>
<line x1="400.80" y1="334.00" x2="400.80" y2="377.60" stroke="#1c1c1c" stroke-width="1.0"/>
<text transform="translate(412.80,328.60) scale(1.1,1)" text-anchor="middle" font-size="9.0" font-weight="700" fill="#000" stroke="#000" stroke-width="0.25" y="3.15">16</text>
<text transform="translate(412.80,353.40) scale(1.1,1)" text-anchor="middle" font-size="9.0" font-weight="700" fill="#000" stroke="#000" stroke-width="0.25" y="3.15">15</text>
<path d="M400.80,364.40 L422.60,364.40 L422.60,370.76 A9,6.84 0 0 1 413.60,377.60 L400.80,377.60 L400.80,364.40 Z" fill="#feb600" stroke="#1c1c1c" stroke-width="1.0" />
<text transform="translate(407.40,371.10) scale(1.1,1)" text-anchor="middle" font-size="9.0" font-weight="700" fill="#000" stroke="#000" stroke-width="0.25" y="3.15">V</text>
<ellipse cx="415.60" cy="371.30" rx="3.2" ry="2.4" fill="url(#gold)" stroke="#7c7020" stroke-width="0.5"/>
<path d="M401.00,260.20 L422.50,260.20 L422.50,267.98 A7,5.32 0 0 1 415.50,273.30 L401.00,273.30 L401.00,260.20 Z" fill="#feb600" stroke="#1c1c1c" stroke-width="1.0" />
<text transform="translate(411.30,263.70) scale(1.1,1)" text-anchor="middle" font-size="9.0" font-weight="700" fill="#000" stroke="#000" stroke-width="0.25" y="3.15">R</text>
<ellipse cx="411.30" cy="270.20" rx="3.2" ry="2.4" fill="url(#gold)" stroke="#7c7020" stroke-width="0.5"/>
<path d="M461.50,260.20 L483.10,260.20 L483.10,273.30 L468.50,273.30 A7,5.32 0 0 1 461.50,267.98 L461.50,260.20 Z" fill="#feb600" stroke="#1c1c1c" stroke-width="1.0" />
<text transform="translate(472.20,263.70) scale(1.1,1)" text-anchor="middle" font-size="9.0" font-weight="700" fill="#000" stroke="#000" stroke-width="0.25" y="3.15">S</text>
<ellipse cx="472.50" cy="270.20" rx="3.2" ry="2.4" fill="url(#gold)" stroke="#7c7020" stroke-width="0.5"/>
<path d="M400.80,303.80 L415.40,303.80 A7,5.32 0 0 1 422.40,309.12 L422.40,316.20 L400.80,316.20 L400.80,303.80 Z" fill="#feb600" stroke="#1c1c1c" stroke-width="1.0" />
<text transform="translate(411.30,307.00) scale(1.1,1)" text-anchor="middle" font-size="9.0" font-weight="700" fill="#000" stroke="#000" stroke-width="0.25" y="3.15">T</text>
<ellipse cx="411.30" cy="313.70" rx="3.2" ry="2.4" fill="url(#gold)" stroke="#7c7020" stroke-width="0.5"/>
<path d="M468.50,303.80 L483.10,303.80 L483.10,316.00 L461.50,316.00 L461.50,309.12 A7,5.32 0 0 1 468.50,303.80 Z" fill="#feb600" stroke="#1c1c1c" stroke-width="1.0" />
<text transform="translate(472.60,307.00) scale(1.1,1)" text-anchor="middle" font-size="9.0" font-weight="700" fill="#000" stroke="#000" stroke-width="0.25" y="3.15">U</text>
<ellipse cx="472.60" cy="313.60" rx="3.2" ry="2.4" fill="url(#gold)" stroke="#7c7020" stroke-width="0.5"/>
<rect x="237.2" y="199.4" width="38" height="3.6" fill="#747474"/>
<line x1="236.70" y1="199.30" x2="275.50" y2="199.30" stroke="#4a4a4a" stroke-width="0.7"/>
<rect x="401.3" y="273.5" width="3" height="30" fill="#707070"/>
<rect x="479.8" y="273.5" width="3" height="30" fill="#707070"/>
<rect x="94.70" y="203.80" width="2.80" height="9.50" fill="#fff" rx="1.3" ry="1.3"/>
<rect x="99.90" y="203.80" width="2.80" height="9.50" fill="#fff" rx="1.3" ry="1.3"/>
<rect x="105.10" y="203.80" width="2.80" height="9.50" fill="#fff" rx="1.3" ry="1.3"/>
<rect x="110.30" y="203.80" width="2.80" height="9.50" fill="#fff" rx="1.3" ry="1.3"/>
<rect x="115.50" y="203.80" width="2.80" height="9.50" fill="#fff" rx="1.3" ry="1.3"/>
<rect x="120.70" y="203.80" width="2.80" height="9.50" fill="#fff" rx="1.3" ry="1.3"/>
<rect x="125.90" y="203.80" width="2.80" height="9.50" fill="#fff" rx="1.3" ry="1.3"/>
<rect x="94.80" y="364.40" width="2.80" height="8.60" fill="#fff" rx="1.3" ry="1.3"/>
<rect x="100.02" y="364.40" width="2.80" height="8.60" fill="#fff" rx="1.3" ry="1.3"/>
<rect x="105.23" y="364.40" width="2.80" height="8.60" fill="#fff" rx="1.3" ry="1.3"/>
<rect x="110.45" y="364.40" width="2.80" height="8.60" fill="#fff" rx="1.3" ry="1.3"/>
<rect x="115.67" y="364.40" width="2.80" height="8.60" fill="#fff" rx="1.3" ry="1.3"/>
<rect x="120.88" y="364.40" width="2.80" height="8.60" fill="#fff" rx="1.3" ry="1.3"/>
<rect x="126.10" y="364.40" width="2.80" height="8.60" fill="#fff" rx="1.3" ry="1.3"/>
<rect x="137.40" y="220.25" width="11.30" height="2.50" fill="#fff" rx="0.9" ry="0.9"/>
<rect x="137.40" y="224.22" width="11.30" height="2.50" fill="#fff" rx="0.9" ry="0.9"/>
<rect x="137.40" y="228.18" width="11.30" height="2.50" fill="#fff" rx="0.9" ry="0.9"/>
<rect x="137.40" y="232.15" width="11.30" height="2.50" fill="#fff" rx="0.9" ry="0.9"/>
<rect x="137.40" y="236.12" width="11.30" height="2.50" fill="#fff" rx="0.9" ry="0.9"/>
<rect x="137.40" y="240.08" width="11.30" height="2.50" fill="#fff" rx="0.9" ry="0.9"/>
<rect x="137.40" y="244.05" width="11.30" height="2.50" fill="#fff" rx="0.9" ry="0.9"/>
<rect x="219.20" y="218.75" width="11.20" height="2.50" fill="#fff" rx="0.9" ry="0.9"/>
<rect x="219.20" y="222.70" width="11.20" height="2.50" fill="#fff" rx="0.9" ry="0.9"/>
<rect x="219.20" y="226.65" width="11.20" height="2.50" fill="#fff" rx="0.9" ry="0.9"/>
<rect x="219.20" y="230.60" width="11.20" height="2.50" fill="#fff" rx="0.9" ry="0.9"/>
<rect x="219.20" y="234.55" width="11.20" height="2.50" fill="#fff" rx="0.9" ry="0.9"/>
<rect x="219.20" y="238.50" width="11.20" height="2.50" fill="#fff" rx="0.9" ry="0.9"/>
<rect x="219.20" y="242.45" width="11.20" height="2.50" fill="#fff" rx="0.9" ry="0.9"/>
<rect x="219.20" y="277.95" width="11.20" height="2.50" fill="#fff" rx="0.9" ry="0.9"/>
<rect x="219.20" y="281.83" width="11.20" height="2.50" fill="#fff" rx="0.9" ry="0.9"/>
<rect x="219.20" y="285.72" width="11.20" height="2.50" fill="#fff" rx="0.9" ry="0.9"/>
<rect x="219.20" y="289.60" width="11.20" height="2.50" fill="#fff" rx="0.9" ry="0.9"/>
<rect x="219.20" y="293.48" width="11.20" height="2.50" fill="#fff" rx="0.9" ry="0.9"/>
<rect x="219.20" y="297.37" width="11.20" height="2.50" fill="#fff" rx="0.9" ry="0.9"/>
<rect x="219.20" y="301.25" width="11.20" height="2.50" fill="#fff" rx="0.9" ry="0.9"/>
<rect x="205.10" y="336.45" width="11.10" height="2.50" fill="#fff" rx="0.9" ry="0.9"/>
<rect x="205.10" y="340.33" width="11.10" height="2.50" fill="#fff" rx="0.9" ry="0.9"/>
<rect x="205.10" y="344.22" width="11.10" height="2.50" fill="#fff" rx="0.9" ry="0.9"/>
<rect x="205.10" y="348.10" width="11.10" height="2.50" fill="#fff" rx="0.9" ry="0.9"/>
<rect x="205.10" y="351.98" width="11.10" height="2.50" fill="#fff" rx="0.9" ry="0.9"/>
<rect x="205.10" y="355.87" width="11.10" height="2.50" fill="#fff" rx="0.9" ry="0.9"/>
<rect x="205.10" y="359.75" width="11.10" height="2.50" fill="#fff" rx="0.9" ry="0.9"/>
<rect x="218.90" y="336.45" width="11.40" height="2.50" fill="#fff" rx="0.9" ry="0.9"/>
<rect x="218.90" y="340.33" width="11.40" height="2.50" fill="#fff" rx="0.9" ry="0.9"/>
<rect x="218.90" y="344.22" width="11.40" height="2.50" fill="#fff" rx="0.9" ry="0.9"/>
<rect x="218.90" y="348.10" width="11.40" height="2.50" fill="#fff" rx="0.9" ry="0.9"/>
<rect x="218.90" y="351.98" width="11.40" height="2.50" fill="#fff" rx="0.9" ry="0.9"/>
<rect x="218.90" y="355.87" width="11.40" height="2.50" fill="#fff" rx="0.9" ry="0.9"/>
<rect x="218.90" y="359.75" width="11.40" height="2.50" fill="#fff" rx="0.9" ry="0.9"/>
<rect x="239.20" y="203.40" width="2.80" height="8.30" fill="#fff" rx="1.3" ry="1.3"/>
<rect x="244.37" y="203.40" width="2.80" height="8.30" fill="#fff" rx="1.3" ry="1.3"/>
<rect x="249.53" y="203.40" width="2.80" height="8.30" fill="#fff" rx="1.3" ry="1.3"/>
<rect x="254.70" y="203.40" width="2.80" height="8.30" fill="#fff" rx="1.3" ry="1.3"/>
<rect x="259.87" y="203.40" width="2.80" height="8.30" fill="#fff" rx="1.3" ry="1.3"/>
<rect x="265.03" y="203.40" width="2.80" height="8.30" fill="#fff" rx="1.3" ry="1.3"/>
<rect x="270.20" y="203.40" width="2.80" height="8.30" fill="#fff" rx="1.3" ry="1.3"/>
<rect x="239.20" y="252.00" width="2.80" height="8.10" fill="#fff" rx="1.3" ry="1.3"/>
<rect x="244.37" y="252.00" width="2.80" height="8.10" fill="#fff" rx="1.3" ry="1.3"/>
<rect x="249.53" y="252.00" width="2.80" height="8.10" fill="#fff" rx="1.3" ry="1.3"/>
<rect x="254.70" y="252.00" width="2.80" height="8.10" fill="#fff" rx="1.3" ry="1.3"/>
<rect x="259.87" y="252.00" width="2.80" height="8.10" fill="#fff" rx="1.3" ry="1.3"/>
<rect x="265.03" y="252.00" width="2.80" height="8.10" fill="#fff" rx="1.3" ry="1.3"/>
<rect x="270.20" y="252.00" width="2.80" height="8.10" fill="#fff" rx="1.3" ry="1.3"/>
<rect x="239.20" y="262.20" width="2.80" height="8.60" fill="#fff" rx="1.3" ry="1.3"/>
<rect x="244.37" y="262.20" width="2.80" height="8.60" fill="#fff" rx="1.3" ry="1.3"/>
<rect x="249.53" y="262.20" width="2.80" height="8.60" fill="#fff" rx="1.3" ry="1.3"/>
<rect x="254.70" y="262.20" width="2.80" height="8.60" fill="#fff" rx="1.3" ry="1.3"/>
<rect x="259.87" y="262.20" width="2.80" height="8.60" fill="#fff" rx="1.3" ry="1.3"/>
<rect x="265.03" y="262.20" width="2.80" height="8.60" fill="#fff" rx="1.3" ry="1.3"/>
<rect x="270.20" y="262.20" width="2.80" height="8.60" fill="#fff" rx="1.3" ry="1.3"/>
<rect x="239.20" y="310.80" width="2.80" height="8.00" fill="#fff" rx="1.3" ry="1.3"/>
<rect x="244.37" y="310.80" width="2.80" height="8.00" fill="#fff" rx="1.3" ry="1.3"/>
<rect x="249.53" y="310.80" width="2.80" height="8.00" fill="#fff" rx="1.3" ry="1.3"/>
<rect x="254.70" y="310.80" width="2.80" height="8.00" fill="#fff" rx="1.3" ry="1.3"/>
<rect x="259.87" y="310.80" width="2.80" height="8.00" fill="#fff" rx="1.3" ry="1.3"/>
<rect x="265.03" y="310.80" width="2.80" height="8.00" fill="#fff" rx="1.3" ry="1.3"/>
<rect x="270.20" y="310.80" width="2.80" height="8.00" fill="#fff" rx="1.3" ry="1.3"/>
<rect x="239.20" y="321.40" width="2.80" height="8.30" fill="#fff" rx="1.3" ry="1.3"/>
<rect x="244.37" y="321.40" width="2.80" height="8.30" fill="#fff" rx="1.3" ry="1.3"/>
<rect x="249.53" y="321.40" width="2.80" height="8.30" fill="#fff" rx="1.3" ry="1.3"/>
<rect x="254.70" y="321.40" width="2.80" height="8.30" fill="#fff" rx="1.3" ry="1.3"/>
<rect x="259.87" y="321.40" width="2.80" height="8.30" fill="#fff" rx="1.3" ry="1.3"/>
<rect x="265.03" y="321.40" width="2.80" height="8.30" fill="#fff" rx="1.3" ry="1.3"/>
<rect x="270.20" y="321.40" width="2.80" height="8.30" fill="#fff" rx="1.3" ry="1.3"/>
<rect x="239.60" y="369.00" width="2.80" height="9.00" fill="#fff" rx="1.3" ry="1.3"/>
<rect x="244.70" y="369.00" width="2.80" height="9.00" fill="#fff" rx="1.3" ry="1.3"/>
<rect x="249.80" y="369.00" width="2.80" height="9.00" fill="#fff" rx="1.3" ry="1.3"/>
<rect x="254.90" y="369.00" width="2.80" height="9.00" fill="#fff" rx="1.3" ry="1.3"/>
<rect x="260.00" y="369.00" width="2.80" height="9.00" fill="#fff" rx="1.3" ry="1.3"/>
<rect x="265.10" y="369.00" width="2.80" height="9.00" fill="#fff" rx="1.3" ry="1.3"/>
<rect x="270.20" y="369.00" width="2.80" height="9.00" fill="#fff" rx="1.3" ry="1.3"/>
<rect x="282.00" y="218.75" width="11.00" height="2.50" fill="#fff" rx="0.9" ry="0.9"/>
<rect x="282.00" y="222.70" width="11.00" height="2.50" fill="#fff" rx="0.9" ry="0.9"/>
<rect x="282.00" y="226.65" width="11.00" height="2.50" fill="#fff" rx="0.9" ry="0.9"/>
<rect x="282.00" y="230.60" width="11.00" height="2.50" fill="#fff" rx="0.9" ry="0.9"/>
<rect x="282.00" y="234.55" width="11.00" height="2.50" fill="#fff" rx="0.9" ry="0.9"/>
<rect x="282.00" y="238.50" width="11.00" height="2.50" fill="#fff" rx="0.9" ry="0.9"/>
<rect x="282.00" y="242.45" width="11.00" height="2.50" fill="#fff" rx="0.9" ry="0.9"/>
<rect x="282.00" y="277.95" width="11.00" height="2.50" fill="#fff" rx="0.9" ry="0.9"/>
<rect x="282.00" y="281.83" width="11.00" height="2.50" fill="#fff" rx="0.9" ry="0.9"/>
<rect x="282.00" y="285.72" width="11.00" height="2.50" fill="#fff" rx="0.9" ry="0.9"/>
<rect x="282.00" y="289.60" width="11.00" height="2.50" fill="#fff" rx="0.9" ry="0.9"/>
<rect x="282.00" y="293.48" width="11.00" height="2.50" fill="#fff" rx="0.9" ry="0.9"/>
<rect x="282.00" y="297.37" width="11.00" height="2.50" fill="#fff" rx="0.9" ry="0.9"/>
<rect x="282.00" y="301.25" width="11.00" height="2.50" fill="#fff" rx="0.9" ry="0.9"/>
<rect x="281.50" y="336.45" width="11.50" height="2.50" fill="#fff" rx="0.9" ry="0.9"/>
<rect x="281.50" y="340.33" width="11.50" height="2.50" fill="#fff" rx="0.9" ry="0.9"/>
<rect x="281.50" y="344.22" width="11.50" height="2.50" fill="#fff" rx="0.9" ry="0.9"/>
<rect x="281.50" y="348.10" width="11.50" height="2.50" fill="#fff" rx="0.9" ry="0.9"/>
<rect x="281.50" y="351.98" width="11.50" height="2.50" fill="#fff" rx="0.9" ry="0.9"/>
<rect x="281.50" y="355.87" width="11.50" height="2.50" fill="#fff" rx="0.9" ry="0.9"/>
<rect x="281.50" y="359.75" width="11.50" height="2.50" fill="#fff" rx="0.9" ry="0.9"/>
<rect x="425.10" y="260.40" width="2.80" height="8.20" fill="#fff" rx="1.3" ry="1.3"/>
<rect x="430.25" y="260.40" width="2.80" height="8.20" fill="#fff" rx="1.3" ry="1.3"/>
<rect x="435.40" y="260.40" width="2.80" height="8.20" fill="#fff" rx="1.3" ry="1.3"/>
<rect x="440.55" y="260.40" width="2.80" height="8.20" fill="#fff" rx="1.3" ry="1.3"/>
<rect x="445.70" y="260.40" width="2.80" height="8.20" fill="#fff" rx="1.3" ry="1.3"/>
<rect x="450.85" y="260.40" width="2.80" height="8.20" fill="#fff" rx="1.3" ry="1.3"/>
<rect x="456.00" y="260.40" width="2.80" height="8.20" fill="#fff" rx="1.3" ry="1.3"/>
<rect x="425.10" y="308.60" width="2.80" height="8.50" fill="#fff" rx="1.3" ry="1.3"/>
<rect x="430.25" y="308.60" width="2.80" height="8.50" fill="#fff" rx="1.3" ry="1.3"/>
<rect x="435.40" y="308.60" width="2.80" height="8.50" fill="#fff" rx="1.3" ry="1.3"/>
<rect x="440.55" y="308.60" width="2.80" height="8.50" fill="#fff" rx="1.3" ry="1.3"/>
<rect x="445.70" y="308.60" width="2.80" height="8.50" fill="#fff" rx="1.3" ry="1.3"/>
<rect x="450.85" y="308.60" width="2.80" height="8.50" fill="#fff" rx="1.3" ry="1.3"/>
<rect x="456.00" y="308.60" width="2.80" height="8.50" fill="#fff" rx="1.3" ry="1.3"/>
<rect x="404.80" y="275.15" width="11.60" height="2.50" fill="#fff" rx="0.9" ry="0.9"/>
<rect x="404.80" y="279.17" width="11.60" height="2.50" fill="#fff" rx="0.9" ry="0.9"/>
<rect x="404.80" y="283.18" width="11.60" height="2.50" fill="#fff" rx="0.9" ry="0.9"/>
<rect x="404.80" y="287.20" width="11.60" height="2.50" fill="#fff" rx="0.9" ry="0.9"/>
<rect x="404.80" y="291.22" width="11.60" height="2.50" fill="#fff" rx="0.9" ry="0.9"/>
<rect x="404.80" y="295.23" width="11.60" height="2.50" fill="#fff" rx="0.9" ry="0.9"/>
<rect x="404.80" y="299.25" width="11.60" height="2.50" fill="#fff" rx="0.9" ry="0.9"/>
<rect x="467.60" y="275.15" width="11.50" height="2.50" fill="#fff" rx="0.9" ry="0.9"/>
<rect x="467.60" y="279.17" width="11.50" height="2.50" fill="#fff" rx="0.9" ry="0.9"/>
<rect x="467.60" y="283.18" width="11.50" height="2.50" fill="#fff" rx="0.9" ry="0.9"/>
<rect x="467.60" y="287.20" width="11.50" height="2.50" fill="#fff" rx="0.9" ry="0.9"/>
<rect x="467.60" y="291.22" width="11.50" height="2.50" fill="#fff" rx="0.9" ry="0.9"/>
<rect x="467.60" y="295.23" width="11.50" height="2.50" fill="#fff" rx="0.9" ry="0.9"/>
<rect x="467.60" y="299.25" width="11.50" height="2.50" fill="#fff" rx="0.9" ry="0.9"/>
<path d="M74.3,242.83 L415,242.83 A32.9,32.17 0 0 1 447.9,275.00 A32.9,32.24 0 0 1 418.6,306.97 A36.75,33.29 0 0 0 381.85,340.26 L381.6,440.13 A23.1,19.47 0 0 1 358.5,459.61 L298,459.61" transform="scale(1,0.76)" fill="none" stroke="#f2c01c" stroke-width="2.15" stroke-dasharray="7.5 2.95" stroke-dashoffset="0"/>
<path d="M74.3,242.83 L79,242.83 A33.9,33.42 0 0 0 45.1,275.92 L45.1,482.89 A33.9,33.68 0 0 0 79,516.58 L159.1,516.58 A20.2,20.92 0 0 0 179.3,495.66 L179.3,340.13 A32.9,33.16 0 0 0 154,307.87 " transform="scale(1,0.76)" fill="none" stroke="#f2c01c" stroke-width="2.15" stroke-dasharray="7.5 2.95" stroke-dashoffset="-7.66"/>
<path d="M111.7,285.39 L111.7,473.95" transform="scale(1,0.76)" fill="none" stroke="#f2c01c" stroke-width="2.15" stroke-dasharray="7.5 2.95" stroke-dashoffset="0"/>
<path d="M258.4,503.82 A20.2,20.92 0 0 0 277.0,516.58 L408.8,516.32 A33,31.45 0 0 0 441.8,484.87 L441.8,421.71" transform="scale(1,0.76)" fill="none" stroke="#f2c01c" stroke-width="2.15" stroke-dasharray="7.5 2.95" stroke-dashoffset="0"/>
<g id="eiffel"><path fill="#3e3e3e" fill-rule="evenodd" d="M255.5,273.8 L256.3,273.8 L256.6,276 L257.5,286.4 L258.7,286.8 L258.7,288.3 L258.1,288.5 Q259.6,293.5 262.4,296.1 L263.6,296.3 L263.6,297.7 Q266.5,301 270.4,302.4 L270.4,303.3 L264.2,303.3 Q261.8,298.6 255.9,298.6 Q250,298.6 247.6,303.3 L241.4,303.3 L241.4,302.4 Q245.3,301 248.2,297.7 L248.2,296.3 L249.4,296.1 Q252.2,293.5 253.7,288.5 L253.1,288.3 L253.1,286.8 L254.3,286.4 L255.2,276 Z M255.9,290 Q255.2,294 253,296.1 L258.8,296.1 Q256.6,294 255.9,290 Z"/><path d="M255.9,290 Q255.2,294 253,296.1 L258.8,296.1 Q256.6,294 255.9,290 Z" fill="#3e3e3e" fill-opacity="0.45"/><path d="M255.9,274 L255.9,287" stroke="#3e3e3e" stroke-width="1.5" fill="none"/><path d="M253.1,287.5 L258.7,287.5 M248.2,297 L263.6,297" stroke="#2e2e2e" stroke-width="0.9" fill="none"/></g>
<text transform="translate(256.5,308.1) scale(1,0.78)" text-anchor="middle" font-size="6.15" font-weight="700" fill="#f0a81c">埃菲尔铁塔</text>
<g id="arc"><path d="M425.3,273.3 L458.4,273.3 L458.4,278.6 L457.7,278.6 L457.7,297.7 L446.6,297.7 L446.6,287.3 A4.7,4.7 0 0 0 437.2,287.3 L437.2,297.7 L426.4,297.7 L426.4,278.6 L425.3,278.6 Z" fill="#fff" fill-opacity="0.9" stroke="#fff" stroke-opacity="0.8" stroke-width="0.8"/><rect x="425.7" y="273.7" width="32.3" height="4.2" fill="#e4a01a"/><rect x="426.2" y="277.3" width="31.3" height="1.5" fill="#a8700f"/><rect x="426.8" y="278.8" width="30.4" height="6.6" fill="#eaa41c"/><rect x="426.8" y="285.0" width="30.4" height="0.9" fill="#c8861a"/><rect x="426.8" y="285.9" width="30.4" height="8.5" fill="#f8b91c"/><rect x="426.8" y="294.2" width="30.4" height="3.1" fill="#ea9c18"/><rect x="429" y="281.2" width="5.4" height="1.6" fill="#b87a14"/><rect x="449.6" y="281.2" width="5.4" height="1.6" fill="#b87a14"/><rect x="429.3" y="287.3" width="3.8" height="5.3" rx="1.2" fill="#b87c1c"/><rect x="450.6" y="287.3" width="3.8" height="5.3" rx="1.2" fill="#b87c1c"/><path d="M437.1,297.8 L437.1,287.3 A4.8,4.8 0 0 1 446.7,287.3 L446.7,297.8 Z" fill="#808080" stroke="#fff" stroke-opacity="0.85" stroke-width="0.7"/><rect x="436.6" y="297.2" width="10.6" height="1" fill="#808080"/></g>
<text transform="translate(428.7,305.6) scale(1,0.74)" font-size="6" font-weight="700" fill="#e2a234" letter-spacing="4.3">凯旋门</text>
</g>
<rect x="511" y="153.9" width="510.8" height="271.7" fill="url(#panel)"/>
<g id="panelg" filter="url(#soft)">
<path d="M538.5,172 L556.1,172 L567.5,207.5 L527.1,207.5 Z" fill="url(#cone)" opacity="0.45"/>
<path d="M541,172 L553.6,172 L558.5,205 L536.1,205 Z" fill="url(#cone)" opacity="0.55"/>
<ellipse cx="547.3" cy="170.4" rx="12.4" ry="5.1" fill="none" stroke="#5aa8c8" stroke-opacity="0.45" stroke-width="0.6"/>
<ellipse cx="547.3" cy="170.3" rx="11.2" ry="4.1" fill="#6fb4d4" fill-opacity="0.25" stroke="#96d6ec" stroke-width="0.9"/>
<ellipse cx="547.3" cy="172" rx="6.4" ry="2.3" fill="#cfeaf6" fill-opacity="0.65"/>
<ellipse cx="547.3" cy="172" rx="3.8" ry="1.4" fill="#fff"/>
<text x="573.6" y="190.2" font-size="17" font-weight="700" fill="#fff">课程规则<tspan fill="#1bb4cc" letter-spacing="1.5">5-投资项目</tspan></text>
<circle cx="568" cy="216.5" r="1.45" fill="#f0f0f0"/>
<text x="578.6" y="219.6" font-size="9.6" fill="#e6e6e6">投资公司需要从政府手中获得土地契约，</text>
<text x="578.6" y="235.4" font-size="9.6" fill="#e6e6e6">获得土地使用权之后建设商铺，可转租，</text>
<text x="578.6" y="251.4" font-size="9.6" fill="#e6e6e6">可转卖，可自主经营。</text>
<circle cx="568" cy="269.0" r="1.45" fill="#f0f0f0"/>
<text x="578.6" y="272.1" font-size="9.6" fill="#e6e6e6">经营类别包括<tspan font-size="9.9">A</tspan>、<tspan font-size="9.9">B</tspan>、<tspan font-size="9.9">C</tspan>、<tspan font-size="9.9">D</tspan>、<tspan font-size="9.9">E</tspan>、<tspan font-size="9.9">F</tspan>六类；</text>
<circle cx="568" cy="290.90000000000003" r="1.45" fill="#f0f0f0"/>
<text x="578.6" y="294.0" font-size="9.6" fill="#e6e6e6">各类商铺的投资与回报各不相同。</text>
<rect x="564.9" y="308.3" width="86.8" height="115.8" fill="#fffcd6"/>
<rect x="564.9" y="308.3" width="86.8" height="18.7" fill="#cf2329"/>
<path d="M564.9,308.3 L578.9,308.3 L573.9,320 L564.9,327 Z" fill="#b81c22" fill-opacity="0.7"/>
<path d="M578.9,308.3 L590.9,308.3 L585.9,322 L573.9,320 Z" fill="#d9353a" fill-opacity="0.8"/>
<path d="M590.9,308.3 L602.9,308.3 L609.9,316 L585.9,322 Z" fill="#e44a4c" fill-opacity="0.8"/>
<path d="M602.9,308.3 L651.6999999999999,308.3 L651.6999999999999,312 L609.9,316 Z" fill="#d82c30" fill-opacity="0.9"/>
<path d="M609.9,316 L651.6999999999999,312 L651.6999999999999,327 L638.9,327 Z" fill="#b51c20" fill-opacity="0.75"/>
<path d="M573.9,320 L585.9,322 L582.9,327 L564.9,327 Z" fill="#c21f25" fill-opacity="0.8"/>
<text x="608.5" y="321.8" text-anchor="middle" font-size="10.2" font-weight="700" fill="#fff">地形标志</text>
<text x="569.0" y="341.3" font-size="6" font-weight="700" fill="#262626" letter-spacing="0">区域颜色:</text>
<text x="613.1" y="341.3" font-size="6" font-weight="700" fill="#262626" letter-spacing="0">区域序号:</text>
<text x="569.0" y="353.4" font-size="6" font-weight="700" fill="#262626" letter-spacing="0">所属公司:</text>
<text x="569.0" y="375.6" font-size="6" font-weight="700" fill="#262626" letter-spacing="0">开发方式:</text>
<text x="580.9" y="387.7" font-size="6" font-weight="700" fill="#262626" letter-spacing="0">政府承建</text>
<text x="607.4" y="387.7" font-size="6" font-weight="700" fill="#262626" letter-spacing="0">(</text>
<text x="617.1" y="387.7" font-size="6" font-weight="700" fill="#262626" letter-spacing="0">)</text>
<text x="580.9" y="399.7" font-size="6" font-weight="700" fill="#262626" letter-spacing="0">自建</text>
<text x="595.2" y="399.7" font-size="6" font-weight="700" fill="#262626" letter-spacing="0">(</text>
<text x="605.7" y="399.7" font-size="6" font-weight="700" fill="#262626" letter-spacing="0">)</text>
<text x="569.0" y="417.7" font-size="6" font-weight="700" fill="#262626" letter-spacing="0">商业业态</text>
<rect x="654.8" y="308.3" width="86.8" height="115.8" fill="#fffcd6"/>
<rect x="654.8" y="308.3" width="86.8" height="18.7" fill="#cf2329"/>
<path d="M654.8,308.3 L668.8,308.3 L663.8,320 L654.8,327 Z" fill="#b81c22" fill-opacity="0.7"/>
<path d="M668.8,308.3 L680.8,308.3 L675.8,322 L663.8,320 Z" fill="#d9353a" fill-opacity="0.8"/>
<path d="M680.8,308.3 L692.8,308.3 L699.8,316 L675.8,322 Z" fill="#e44a4c" fill-opacity="0.8"/>
<path d="M692.8,308.3 L741.5999999999999,308.3 L741.5999999999999,312 L699.8,316 Z" fill="#d82c30" fill-opacity="0.9"/>
<path d="M699.8,316 L741.5999999999999,312 L741.5999999999999,327 L728.8,327 Z" fill="#b51c20" fill-opacity="0.75"/>
<path d="M663.8,320 L675.8,322 L672.8,327 L654.8,327 Z" fill="#c21f25" fill-opacity="0.8"/>
<text x="698.4" y="321.8" text-anchor="middle" font-size="10.2" font-weight="700" fill="#fff">地契</text>
<text x="658.9" y="341.3" font-size="6" font-weight="700" fill="#262626" letter-spacing="0">区域颜色:</text>
<text x="703.0" y="341.3" font-size="6" font-weight="700" fill="#262626" letter-spacing="0">区域序号:</text>
<text x="658.9" y="353.4" font-size="6" font-weight="700" fill="#262626" letter-spacing="0">所属公司:</text>
<text x="658.9" y="375.6" font-size="6" font-weight="700" fill="#262626" letter-spacing="0">开发方式:</text>
<text x="670.8" y="387.7" font-size="6" font-weight="700" fill="#262626" letter-spacing="0">政府承建</text>
<text x="697.3" y="387.7" font-size="6" font-weight="700" fill="#262626" letter-spacing="0">(</text>
<text x="707.0" y="387.7" font-size="6" font-weight="700" fill="#262626" letter-spacing="0">)</text>
<text x="670.8" y="399.7" font-size="6" font-weight="700" fill="#262626" letter-spacing="0">自建</text>
<text x="685.1" y="399.7" font-size="6" font-weight="700" fill="#262626" letter-spacing="0">(</text>
<text x="695.6" y="399.7" font-size="6" font-weight="700" fill="#262626" letter-spacing="0">)</text>
<text x="658.9" y="417.7" font-size="6" font-weight="700" fill="#262626" letter-spacing="0">商业业态</text>
<rect x="781.9" y="183.5" width="201.9" height="240.3" fill="#a9b5c6"/>
<rect x="775.5" y="178" width="201.6" height="240.1" fill="#fff"/>
<circle cx="970.8" cy="185.6" r="1.6" fill="#fff" stroke="#2f6fc4" stroke-width="1.1"/>
<circle cx="781.9" cy="411.7" r="1.6" fill="#fff" stroke="#2f6fc4" stroke-width="1.1"/>
<text x="789" y="216.6" font-size="8.6" font-weight="700" fill="#1a9cc0">A类（金融、商业）商铺</text>
<text x="789" y="232.2" font-size="8.67" fill="#333">启动投资<tspan fill="#ff1a1a" font-weight="700" font-size="9.3">100</tspan>万美元，一年基础收益<tspan fill="#ff1a1a" font-weight="700" font-size="9.3">100</tspan>万美元</text>
<text x="789" y="247.3" font-size="8.6" font-weight="700" fill="#1a9cc0">B类（酒店、地产）商铺</text>
<text x="789" y="262.8" font-size="8.67" fill="#333">启动投资<tspan fill="#ff1a1a" font-weight="700" font-size="9.3">90</tspan>万美元，一年基础收益<tspan fill="#ff1a1a" font-weight="700" font-size="9.3">90</tspan>万美元</text>
<text x="789" y="278.2" font-size="8.6" font-weight="700" fill="#1a9cc0">C类（医疗、教育）商铺</text>
<text x="789" y="293.5" font-size="8.67" fill="#333">启动投资<tspan fill="#ff1a1a" font-weight="700" font-size="9.3">80</tspan>万美元，一年基础收益<tspan fill="#ff1a1a" font-weight="700" font-size="9.3">80</tspan>万美元</text>
<text x="789" y="308.6" font-size="8.6" font-weight="700" fill="#1a9cc0">D类（餐饮、娱乐）商铺</text>
<text x="789" y="324.0" font-size="8.67" fill="#333">启动投资<tspan fill="#ff1a1a" font-weight="700" font-size="9.3">70</tspan>万美元，一年基础收益<tspan fill="#ff1a1a" font-weight="700" font-size="9.3">70</tspan>万美元</text>
<text x="789" y="339.5" font-size="8.6" font-weight="700" fill="#1a9cc0">E类（交通、通信）商铺</text>
<text x="789" y="355.0" font-size="8.67" fill="#333">启动投资<tspan fill="#ff1a1a" font-weight="700" font-size="9.3">60</tspan>万美元，一年基础收益<tspan fill="#ff1a1a" font-weight="700" font-size="9.3">60</tspan>万美元</text>
<text x="789" y="370.4" font-size="8.6" font-weight="700" fill="#1a9cc0">F类（旅游、文化）商铺</text>
<text x="789" y="385.3" font-size="8.67" fill="#333">启动投资<tspan fill="#ff1a1a" font-weight="700" font-size="9.3">50</tspan>万美元，一年基础收益<tspan fill="#ff1a1a" font-weight="700" font-size="9.3">50</tspan>万美元</text>
</g>
</svg></body></html>
